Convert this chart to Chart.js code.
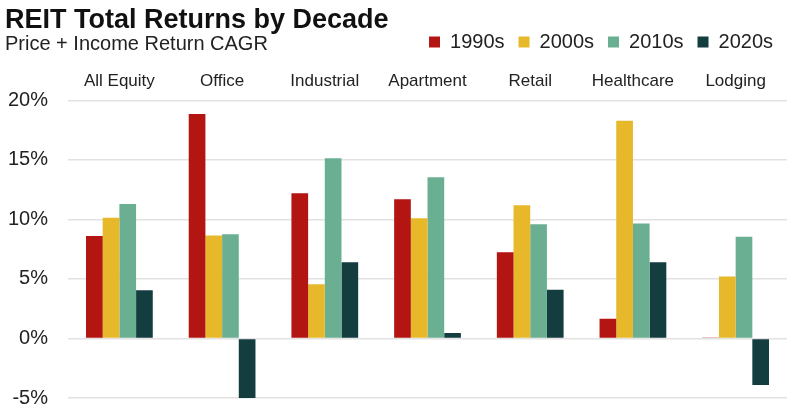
<!DOCTYPE html>
<html>
<head>
<meta charset="utf-8">
<script src="https://cdn.jsdelivr.net/npm/chart.js@4/dist/chart.umd.min.js"></script>
<style>
  html, body { margin: 0; padding: 0; background: #fff; }
  #wrap { position: relative; width: 799px; height: 414px; }
  #title { position: absolute; left: 5px; top: 6px; font: bold 27px/27px "Liberation Sans", Arial, sans-serif; color: #111; }
  #subtitle { position: absolute; left: 5px; top: 33px; font: 20px/20px "Liberation Sans", Arial, sans-serif; color: #222; }
</style>
</head>
<body>
<div id="wrap">
  <canvas id="chart" width="799" height="414"></canvas>
  <div id="title">REIT Total Returns by Decade</div>
  <div id="subtitle">Price + Income Return CAGR</div>
</div>
<script>
const categories = ['All Equity', 'Office', 'Industrial', 'Apartment', 'Retail', 'Healthcare', 'Lodging'];
const decades = ['1990s', '2000s', '2010s', '2020s'];
const returns1990s = [8.6, 18.85, 12.2, 11.7, 7.25, 1.65, 0.08];
const returns2000s = [10.15, 8.65, 4.55, 10.1, 11.2, 18.3, 5.2];
const returns2010s = [11.3, 8.75, 15.15, 13.55, 9.6, 9.65, 8.55];
const returns2020s = [4.05, -5.15, 6.4, 0.45, 4.1, 6.4, -3.9];
const colors = ['#B31512', '#E6B82A', '#6BAF92', '#143D40'];
const yTicks = [-5, 0, 5, 10, 15, 20];

const series = [returns1990s, returns2000s, returns2010s, returns2020s];
const font = 'Liberation Sans, Arial, sans-serif';

// push the category labels a bit further down from the legend
const legendGap = {
  id: 'legendGap',
  beforeInit(chart) {
    const fit = chart.legend.fit;
    chart.legend.fit = function () {
      fit.bind(chart.legend)();
      this.height += 8;
    };
  }
};

new Chart(document.getElementById('chart'), {
  type: 'bar',
  data: {
    labels: categories,
    datasets: decades.map((d, i) => ({
      label: d,
      data: series[i],
      backgroundColor: colors[i],
      borderWidth: 0,
      categoryPercentage: 0.65,
      barPercentage: 1
    }))
  },
  plugins: [legendGap],
  options: {
    responsive: false,
    animation: false,
    layout: { padding: { left: 6, right: 12, top: 18, bottom: 16 } },
    plugins: {
      tooltip: { enabled: false },
      legend: {
        position: 'top',
        align: 'end',
        labels: {
          boxWidth: 11,
          boxHeight: 11,
          padding: 14,
          color: '#222',
          font: { family: font, size: 20 }
        }
      }
    },
    scales: {
      x: {
        position: 'top',
        grid: { display: false },
        border: { display: false },
        ticks: { color: '#222', font: { family: font, size: 17 }, padding: 1 }
      },
      y: {
        min: -5,
        max: 20,
        afterBuildTicks: axis => { axis.ticks = yTicks.map(v => ({ value: v })); },
        // invisible tick marks give the gap between labels and plot
        grid: { color: '#e2e2e2', lineWidth: 1.5, drawTicks: true, tickLength: 18, tickColor: 'rgba(0,0,0,0)' },
        border: { display: false },
        ticks: {
          color: '#222',
          font: { family: font, size: 20 },
          padding: 2,
          callback: v => v + '%'
        }
      }
    }
  }
});
</script>
</body>
</html>
